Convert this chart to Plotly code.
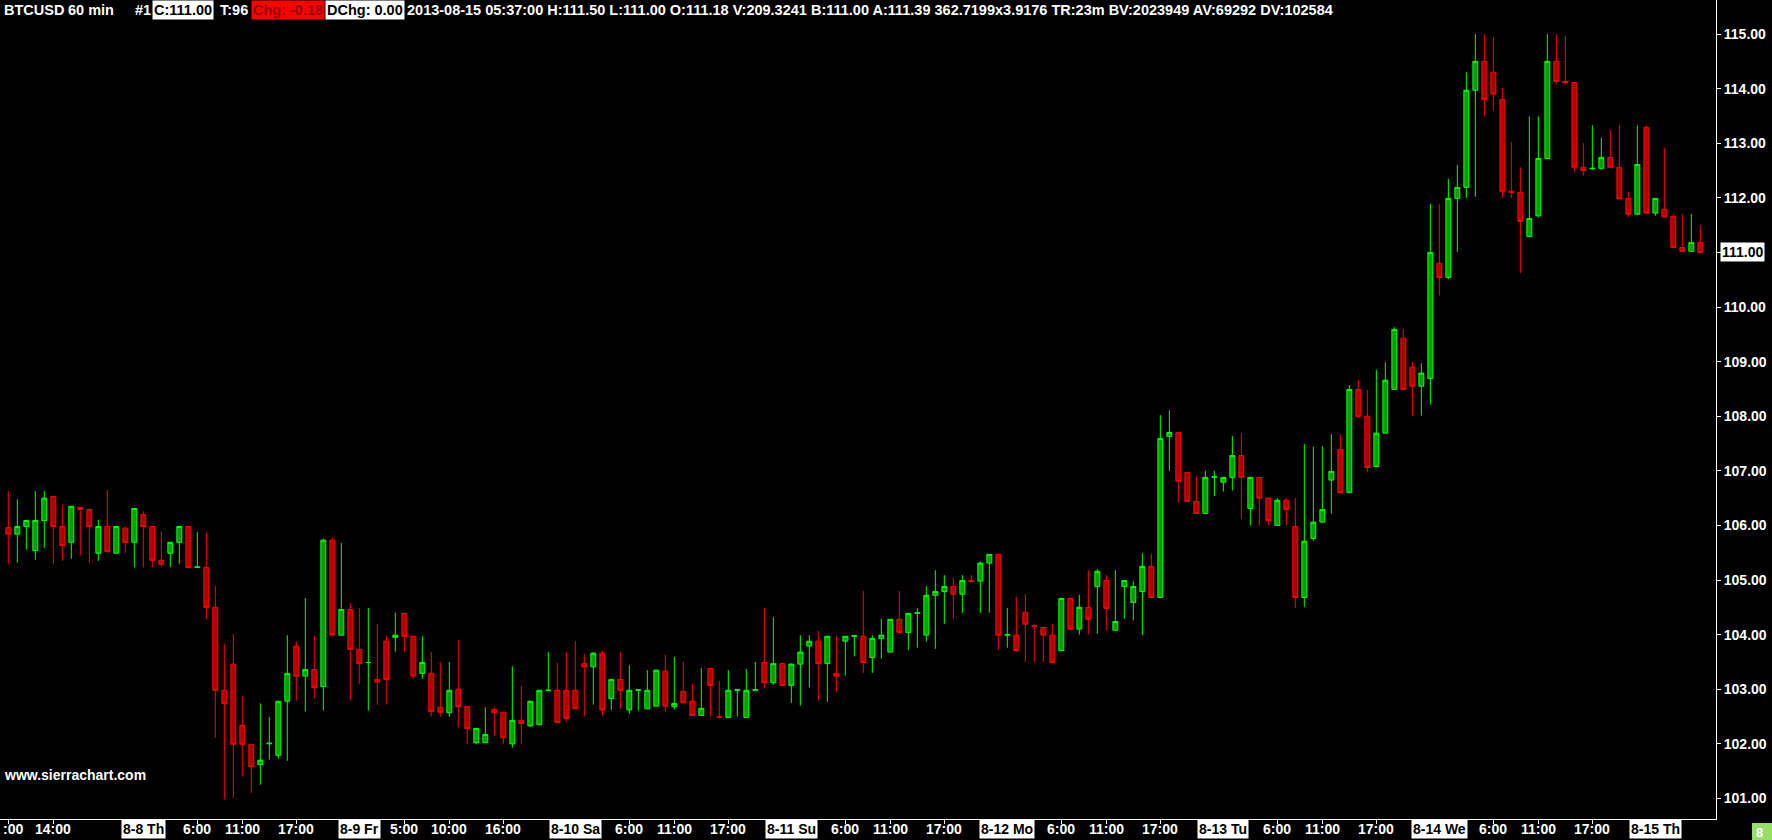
import plotly.graph_objects as go
import pandas as pd

# ---------------- data ----------------
start = pd.Timestamp("2013-08-07 09:00")
times = pd.date_range(start, periods=189, freq="h")

opens = [105.96, 105.84, 105.98, 105.54, 106.09, 106.53, 105.98, 105.69, 106.33, 106.29,
         105.49, 105.98, 105.49, 105.95, 105.69, 106.20, 105.98, 105.36, 105.49, 105.69,
         105.98, 105.23, 105.23, 104.50, 102.98, 103.46, 102.34, 101.99, 101.62, 102.00,
         101.79, 102.78, 103.79, 103.24, 103.36, 103.05, 105.73, 103.99, 104.46, 103.73,
         103.49, 103.18, 103.88, 103.95, 104.39, 103.97, 103.29, 103.29, 102.67, 102.57,
         103.00, 102.68, 102.02, 102.02, 102.63, 102.58, 102.00, 102.43, 102.33, 102.35,
         102.98, 102.98, 102.98, 102.98, 103.47, 103.41, 103.66, 102.83, 103.18, 102.62,
         102.98, 102.64, 102.69, 103.33, 102.68, 102.96, 102.78, 102.52, 103.38, 102.49,
         102.48, 102.98, 102.48, 102.98, 103.49, 103.12, 103.47, 103.07, 103.46, 103.79,
         103.88, 103.47, 103.29, 103.88, 103.97, 103.97, 103.58, 103.93, 103.68, 104.28,
         104.04, 104.39, 103.99, 104.72, 104.79, 104.88, 104.74, 104.99, 104.98, 105.31,
         105.47, 103.99, 103.99, 104.41, 104.16, 104.13, 103.99, 103.71, 104.66, 104.10,
         104.50, 104.88, 104.99, 104.08, 104.88, 104.59, 104.79, 105.25, 104.68, 107.63,
         107.70, 106.97, 106.44, 106.22, 106.88, 106.79, 106.88, 107.28, 106.31, 106.88,
         106.50, 106.00, 106.46, 105.98, 104.68, 105.76, 106.06, 106.83, 107.39, 106.60,
         108.49, 108.00, 107.08, 107.69, 108.49, 109.43, 108.90, 108.55, 108.69, 110.80,
         110.54, 111.99, 112.19, 113.97, 114.50, 114.30, 113.80, 112.12, 112.10, 111.29,
         111.67, 112.72, 114.50, 114.13, 114.11, 112.56, 112.53, 112.54, 112.74, 112.56,
         111.99, 111.70, 113.29, 111.72, 111.79, 111.66, 111.09, 111.02, 111.18]
highs = [106.63, 106.48, 106.09, 106.63, 106.63, 106.53, 106.37, 106.35, 106.33, 106.29,
         106.10, 106.65, 105.98, 105.98, 106.31, 106.26, 105.98, 105.89, 105.69, 105.98,
         105.98, 105.88, 105.86, 104.89, 103.83, 104.01, 102.88, 101.99, 102.74, 102.49,
         102.78, 103.99, 103.88, 104.67, 103.97, 105.76, 105.78, 105.68, 104.58, 104.49,
         104.49, 104.19, 103.97, 104.40, 104.39, 103.97, 103.97, 103.68, 103.50, 103.50,
         103.90, 102.68, 102.28, 102.67, 102.67, 102.58, 103.42, 103.06, 102.78, 102.98,
         103.68, 103.48, 103.68, 103.88, 103.64, 103.68, 103.70, 103.18, 103.68, 103.44,
         102.98, 103.35, 103.35, 103.63, 103.59, 103.50, 103.10, 103.39, 103.39, 103.15,
         103.35, 102.98, 103.37, 103.50, 104.49, 104.32, 103.49, 103.47, 103.99, 103.99,
         104.07, 103.97, 103.97, 103.97, 103.97, 104.80, 103.99, 104.29, 104.28, 104.80,
         104.39, 104.49, 104.89, 105.18, 105.09, 105.04, 105.09, 105.09, 105.34, 105.47,
         105.47, 104.49, 104.69, 104.74, 104.19, 104.13, 104.19, 104.68, 104.68, 104.73,
         105.18, 105.20, 105.09, 105.18, 104.99, 104.98, 105.49, 105.48, 108.02, 108.11,
         107.70, 106.97, 106.89, 107.00, 107.00, 106.88, 107.64, 107.69, 106.88, 106.88,
         106.50, 106.50, 106.50, 106.50, 107.49, 107.44, 107.45, 107.67, 107.67, 108.57,
         108.66, 108.48, 108.85, 108.99, 109.63, 109.60, 108.99, 108.97, 111.89, 111.89,
         112.35, 112.60, 114.30, 115.00, 115.00, 114.95, 114.01, 113.02, 112.56, 113.49,
         113.49, 115.00, 115.00, 114.96, 114.11, 113.00, 113.33, 113.10, 113.24, 113.33,
         112.11, 113.33, 113.33, 111.99, 112.92, 111.70, 111.70, 111.70, 111.50]
lows = [105.29, 105.32, 105.56, 105.37, 105.59, 105.29, 105.35, 105.39, 105.45, 105.32,
        105.35, 105.50, 105.49, 105.50, 105.23, 105.23, 105.23, 105.25, 105.24, 105.30,
        105.23, 105.23, 104.29, 102.11, 100.98, 101.01, 101.40, 101.10, 101.25, 101.71,
        101.73, 101.69, 102.79, 102.59, 102.83, 102.61, 103.99, 103.99, 102.79, 103.10,
        102.61, 102.72, 102.72, 103.69, 103.69, 103.19, 103.19, 102.50, 102.50, 102.50,
        102.30, 102.00, 102.00, 102.02, 102.15, 102.00, 101.93, 102.00, 102.31, 102.35,
        102.98, 102.39, 102.41, 102.64, 102.50, 102.72, 102.52, 102.62, 102.64, 102.55,
        102.61, 102.64, 102.69, 102.59, 102.63, 102.75, 102.52, 102.52, 102.50, 102.49,
        102.48, 102.50, 102.48, 102.98, 103.01, 103.08, 103.07, 102.75, 102.70, 103.03,
        102.79, 102.77, 102.96, 103.25, 103.60, 103.30, 103.30, 103.56, 103.68, 104.04,
        103.72, 103.76, 103.87, 103.74, 104.20, 104.29, 104.40, 104.97, 104.40, 104.40,
        103.72, 103.76, 103.69, 103.50, 103.50, 103.50, 103.49, 103.71, 104.10, 104.00,
        104.00, 104.02, 104.08, 104.08, 104.29, 104.26, 103.99, 104.68, 104.68, 107.00,
        106.42, 106.44, 106.22, 106.22, 106.54, 106.62, 106.64, 106.12, 106.00, 106.00,
        106.01, 106.00, 106.00, 104.49, 104.51, 105.72, 106.06, 106.22, 106.60, 106.60,
        107.99, 106.98, 107.08, 107.69, 108.49, 108.49, 108.01, 108.01, 108.21, 110.21,
        110.51, 111.01, 112.00, 112.02, 113.50, 113.60, 112.00, 112.00, 110.62, 111.29,
        111.64, 112.72, 114.08, 114.08, 112.48, 112.41, 112.52, 112.52, 112.56, 111.98,
        111.65, 111.68, 111.72, 111.67, 111.65, 111.09, 111.02, 111.02, 111.00]
closes = [105.84, 105.98, 106.09, 106.09, 106.50, 105.98, 105.63, 106.35, 106.29, 105.98,
          105.98, 105.52, 105.98, 105.69, 106.31, 105.98, 105.36, 105.29, 105.69, 105.98,
          105.23, 105.24, 104.50, 102.98, 102.74, 101.99, 101.99, 101.58, 101.70, 102.01,
          102.78, 103.29, 103.24, 103.36, 103.03, 105.73, 103.99, 104.46, 103.73, 103.47,
          103.49, 103.13, 103.18, 103.99, 103.97, 103.24, 103.49, 102.59, 102.58, 102.98,
          102.68, 102.28, 102.28, 102.17, 102.57, 102.11, 102.43, 102.37, 102.78, 102.98,
          102.98, 102.39, 102.46, 102.64, 103.41, 103.66, 102.62, 103.18, 102.98, 102.98,
          102.99, 102.98, 103.35, 102.69, 102.74, 102.75, 102.52, 102.65, 103.07, 102.49,
          102.98, 102.99, 102.98, 102.99, 103.12, 103.47, 103.07, 103.46, 103.68, 103.88,
          103.47, 103.97, 103.24, 103.97, 103.98, 103.49, 103.93, 103.99, 104.28, 104.04,
          104.39, 104.40, 104.72, 104.79, 104.88, 104.74, 104.99, 104.97, 105.31, 105.47,
          103.99, 104.00, 103.71, 104.19, 104.16, 103.99, 103.49, 104.66, 104.10, 104.50,
          104.28, 105.16, 104.48, 104.24, 104.99, 104.88, 105.25, 104.68, 107.59, 107.70,
          106.81, 106.44, 106.22, 106.88, 106.89, 106.88, 107.28, 106.88, 106.88, 106.50,
          106.09, 106.46, 106.29, 104.68, 105.71, 106.06, 106.29, 106.99, 106.60, 108.49,
          107.99, 107.06, 107.69, 108.66, 109.59, 108.49, 108.55, 108.79, 111.00, 110.54,
          111.99, 112.19, 113.97, 114.50, 113.80, 113.90, 112.12, 112.10, 111.57, 111.62,
          112.72, 114.50, 114.13, 114.11, 112.56, 112.50, 112.54, 112.74, 112.56, 111.98,
          111.70, 112.61, 111.72, 111.99, 111.65, 111.09, 111.02, 111.18, 111.00]

tick_times = ["2013-08-07 09:00", "2013-08-07 14:00", "2013-08-08 00:00", "2013-08-08 06:00",
              "2013-08-08 11:00", "2013-08-08 17:00", "2013-08-09 00:00", "2013-08-09 05:00",
              "2013-08-09 10:00", "2013-08-09 16:00", "2013-08-10 00:00", "2013-08-10 06:00",
              "2013-08-10 11:00", "2013-08-10 17:00", "2013-08-11 00:00", "2013-08-11 06:00",
              "2013-08-11 11:00", "2013-08-11 17:00", "2013-08-12 00:00", "2013-08-12 06:00",
              "2013-08-12 11:00", "2013-08-12 17:00", "2013-08-13 00:00", "2013-08-13 06:00",
              "2013-08-13 11:00", "2013-08-13 17:00", "2013-08-14 00:00", "2013-08-14 06:00",
              "2013-08-14 11:00", "2013-08-14 17:00", "2013-08-15 00:00"]
tick_texts = [":00", "14:00", "8-8 Th", "6:00", "11:00", "17:00", "8-9 Fr", "5:00",
              "10:00", "16:00", "8-10 Sa", "6:00", "11:00", "17:00", "8-11 Su", "6:00",
              "11:00", "17:00", "8-12 Mo", "6:00", "11:00", "17:00", "8-13 Tu", "6:00",
              "11:00", "17:00", "8-14 We", "6:00", "11:00", "17:00", "8-15 Th"]
tick_is_date = [t.endswith("00:00") for t in tick_times]

price_ticks = list(range(101, 116))
last_price = 111.00

header_title = "BTCUSD"
header_interval = "60 min"
header_chart = "#1"
header_close = "C:111.00"
header_trades = "T:96"
header_chg = "Chg: -0.18"
header_dchg = "DChg: 0.00"
header_rest = ("2013-08-15 05:37:00 H:111.50 L:111.00 O:111.18 V:209.3241 B:111.00 "
               "A:111.39 362.7199x3.9176 TR:23m BV:2023949 AV:69292 DV:102584")

# ---------------- layout constants ----------------
W, H = 1772, 840
PLOT_W = 1716
PLOT_H = 819
FONT = "Liberation Sans, Arial, sans-serif"
GREEN, GREEN_FILL = "#00ff00", "#00a000"
RED, RED_FILL = "#ff0000", "#b00000"

fig = go.Figure()
fig.add_trace(go.Candlestick(
    x=times, open=opens, high=highs, low=lows, close=closes,
    increasing=dict(line=dict(color=GREEN, width=1), fillcolor=GREEN_FILL),
    decreasing=dict(line=dict(color=RED, width=1), fillcolor=RED_FILL),
    whiskerwidth=0, hoverinfo="skip", showlegend=False,
))

x0 = start - pd.Timedelta(hours=0.922)
x1 = start + pd.Timedelta(hours=189.74)

annotations = []
# x-axis labels
for i, (t, txt, isd) in enumerate(zip(tick_times, tick_texts, tick_is_date)):
    a = dict(
        x=t, xref="x", y=0, yref="paper", yanchor="middle", xanchor="center",
        yshift=-10, text=txt, showarrow=False,
        font=dict(family=FONT, size=14, color="black" if isd else "white", weight="bold"),
        bgcolor="white" if isd else None, borderpad=1,
    )
    if i == 0:  # first label is cut by the left edge in the reference
        a.update(x=1 / PLOT_W, xref="paper", xanchor="left")
    annotations.append(a)

def hdr(px, text, color="white", bg=None):
    annotations.append(dict(
        x=px / PLOT_W, xref="paper", y=1, yref="paper", xanchor="left", yanchor="top",
        text=text, showarrow=False, bgcolor=bg, borderpad=1,
        font=dict(family=FONT, size=14.5, color=color, weight="bold"),
    ))

hdr(2, header_title)
hdr(66, header_interval)
hdr(133, header_chart)
hdr(152, header_close, "black", "white")
hdr(218, header_trades)
hdr(251, header_chg, "#900000", "#ff0000")
hdr(325, header_dchg, "black", "white")
hdr(405, header_rest)

# current price marker
annotations.append(dict(
    x=1, xref="paper", xshift=4, y=last_price, yref="y", xanchor="left", yanchor="middle",
    text=f"{last_price:.2f}", showarrow=False, bgcolor="white", borderpad=1,
    font=dict(family=FONT, size=14, color="black", weight="bold"),
))
# watermark
annotations.append(dict(
    x=2 / PLOT_W, xref="paper", y=(PLOT_H - 775) / PLOT_H, yref="paper", xanchor="left",
    yanchor="middle", text="www.sierrachart.com", showarrow=False,
    font=dict(family=FONT, size=14, color="white", weight="bold"),
))
# small green box in corner
annotations.append(dict(
    x=1760 / PLOT_W, xref="paper", y=(PLOT_H - 832) / PLOT_H, yref="paper",
    xanchor="center", yanchor="middle", text="8", showarrow=False,
    font=dict(family=FONT, size=13, color="white", weight="bold"),
))
shapes = [dict(
    type="rect", xref="paper", yref="paper", layer="below",
    x0=1752 / PLOT_W, x1=1772 / PLOT_W, y0=(PLOT_H - 823) / PLOT_H, y1=(PLOT_H - 841) / PLOT_H,
    fillcolor="#99dd66", line=dict(width=0),
)]

fig.update_layout(
    width=W, height=H, margin=dict(l=0, r=W - PLOT_W, t=0, b=H - PLOT_H),
    paper_bgcolor="black", plot_bgcolor="black", boxgap=0.45, boxgroupgap=0,
    showlegend=False, annotations=annotations, shapes=shapes, hovermode=False,
    xaxis=dict(
        range=[x0, x1], rangeslider=dict(visible=False), showgrid=False, zeroline=False,
        showline=True, linecolor="white", linewidth=1, ticks="outside", ticklen=4,
        tickcolor="white", tickvals=tick_times, showticklabels=False,
    ),
    yaxis=dict(
        range=[100.623, 115.623], side="right", showgrid=False, zeroline=False,
        showline=True, linecolor="white", linewidth=1, ticks="outside", ticklen=4,
        tickcolor="white", tickvals=price_ticks,
        ticktext=["" if v == last_price else f"{v:.2f}" for v in price_ticks],
        tickfont=dict(family=FONT, size=14, color="white", weight="bold"),
    ),
)

fig.write_html(
    "out.html",
    config={"displayModeBar": False, "staticPlot": True},
    post_script="document.body.style.margin='0';document.body.style.overflow='hidden';",
)
